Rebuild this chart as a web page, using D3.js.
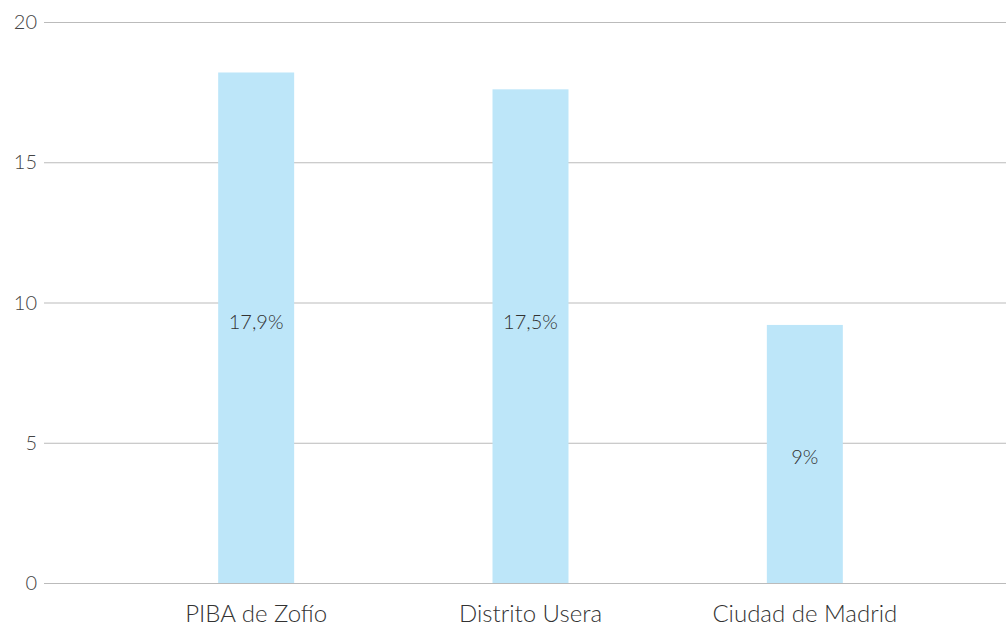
<!DOCTYPE html>
<html lang="es">
<head>
  <meta charset="UTF-8" />
  <script src="https://d3js.org/d3.v7.min.js"></script>
  <style>
    body { margin: 0; background: #fff; }
    text { font-family: Lato, sans-serif; font-weight: 300; }
  </style>
</head>
<body>
  <svg width="1006" height="627"></svg>
  <script>
    const categories = ["PIBA de Zofío", "Distrito Usera", "Ciudad de Madrid"];
    const values = [18.2, 17.6, 9.2];
    const valueLabels = ["17,9%", "17,5%", "9%"];
    const labelAt = [9.3, 9.3, 4.5];
    const yTicks = [0, 5, 10, 15, 20];

    const svg = d3.select("svg");
    const plot = { left: 44, right: 1006, top: 22, bottom: 583 };

    const y = d3.scaleLinear().domain([0, 20]).range([plot.bottom, plot.top]);
    const x = d3.scaleBand().domain(categories).range([119, 942])
      .paddingInner(0.723).paddingOuter(0.3615);

    // gridlines
    svg.append("g").selectAll("line")
      .data(yTicks)
      .join("line")
      .attr("x1", plot.left).attr("x2", plot.right)
      .attr("y1", d => y(d) + 0.5).attr("y2", d => y(d) + 0.5)
      .attr("stroke", "#bbb").attr("stroke-width", 1);

    // y tick labels
    svg.append("g").selectAll("text")
      .data(yTicks)
      .join("text")
      .attr("x", 37)
      .attr("y", d => y(d))
      .attr("dy", "0.35em")
      .attr("text-anchor", "end")
      .attr("font-size", 20)
      .attr("fill", "#444")
      .text(d => d);

    // bars
    svg.append("g").selectAll("rect")
      .data(values)
      .join("rect")
      .attr("x", (d, i) => x(categories[i]))
      .attr("width", x.bandwidth())
      .attr("y", d => y(d))
      .attr("height", d => plot.bottom - y(d))
      .attr("fill", "#bde6f9");

    // zero line on top
    svg.append("line")
      .attr("x1", plot.left).attr("x2", plot.right)
      .attr("y1", y(0) + 0.5).attr("y2", y(0) + 0.5)
      .attr("stroke", "#bbb");

    // value labels
    svg.append("g").selectAll("text")
      .data(valueLabels)
      .join("text")
      .attr("x", (d, i) => x(categories[i]) + x.bandwidth() / 2)
      .attr("y", (d, i) => y(labelAt[i]))
      .attr("dy", "0.35em")
      .attr("text-anchor", "middle")
      .attr("font-size", 20)
      .attr("fill", "#333")
      .text(d => d);

    // category labels
    svg.append("g").selectAll("text")
      .data(categories)
      .join("text")
      .attr("x", d => x(d) + x.bandwidth() / 2)
      .attr("y", 614)
      .attr("dy", "0.35em")
      .attr("text-anchor", "middle")
      .attr("font-size", 24)
      .attr("fill", "#333")
      .text(d => d);
  </script>
</body>
</html>
